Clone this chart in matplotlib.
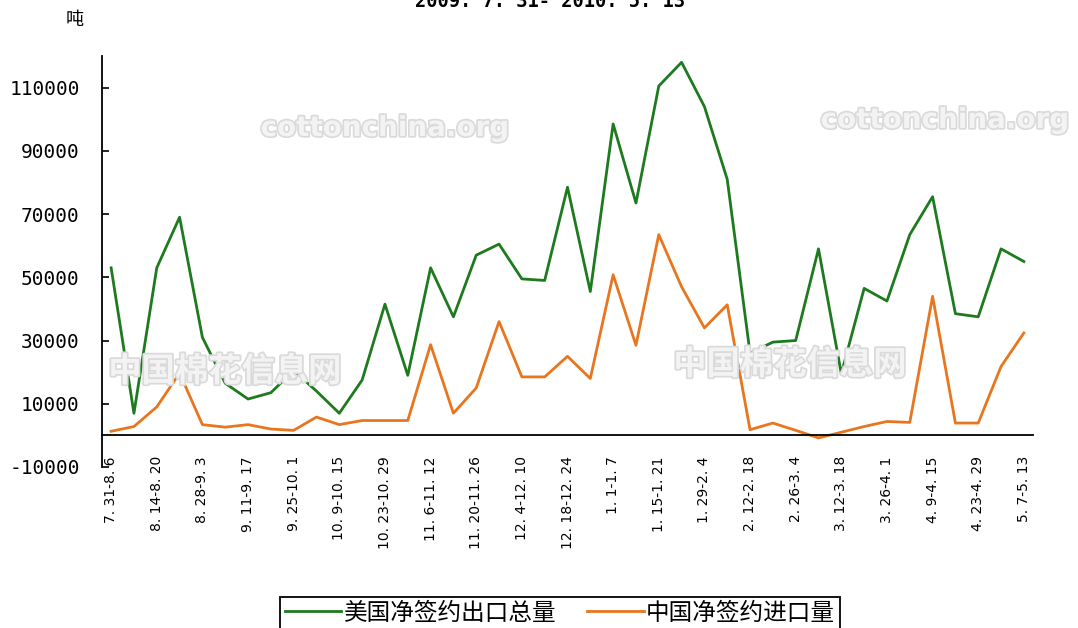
import matplotlib
matplotlib.use("Agg")
import matplotlib.pyplot as plt
import matplotlib.patheffects as pe
import numpy as np

# weekly periods, 2009.7.31 - 2010.5.13
weeks = ['7.31-8.6', '8.7-8.13', '8.14-8.20', '8.21-8.27', '8.28-9.3', '9.4-9.10',
         '9.11-9.17', '9.18-9.24', '9.25-10.1', '10.2-10.8', '10.9-10.15', '10.16-10.22',
         '10.23-10.29', '10.30-11.5', '11.6-11.12', '11.13-11.19', '11.20-11.26',
         '11.27-12.3', '12.4-12.10', '12.11-12.17', '12.18-12.24', '12.25-12.31',
         '1.1-1.7', '1.8-1.14', '1.15-1.21', '1.22-1.28', '1.29-2.4', '2.5-2.11',
         '2.12-2.18', '2.19-2.25', '2.26-3.4', '3.5-3.11', '3.12-3.18', '3.19-3.25',
         '3.26-4.1', '4.2-4.8', '4.9-4.15', '4.16-4.22', '4.23-4.29', '4.30-5.6', '5.7-5.13']

us_export = [53000, 7000, 53000, 69000, 31000, 16500, 11500, 13500, 20500, 14000,
             7000, 17500, 41500, 19000, 53000, 37500, 57000, 60500, 49500, 49000,
             78500, 45500, 98500, 73500, 110500, 118000, 104000, 81000, 26000, 29500,
             30000, 59000, 19500, 46500, 42500, 63500, 75500, 38500, 37500, 59000, 55000]

cn_import = [1300, 2800, 9000, 19700, 3400, 2600, 3400, 2000, 1600, 5800,
             3400, 4700, 4700, 4700, 28700, 7000, 15000, 36000, 18500, 18500,
             25000, 18000, 50800, 28500, 63500, 47000, 34000, 41300, 1800, 3900,
             1600, -800, 1000, 2800, 4400, 4100, 44000, 3900, 3900, 21800, 32400]

yticks = list(range(-10000, 110001, 20000))

W, H = 1078, 628
fig = plt.figure(figsize=(W / 100, H / 100), dpi=100)
ax = fig.add_axes([102 / W, (H - 467) / H, (1033 - 102) / W, (467 - 56) / H])

# watermarks
wm = dict(color='#f3f3f3', zorder=0,
          path_effects=[pe.withStroke(linewidth=2.5, foreground='#dadada')])
fig.text(385 / W, 1 - 128 / H, 'cottonchina.org', fontsize=20, ha='center', va='center',
         family='DejaVu Sans', weight='bold', **wm)
fig.text(945 / W, 1 - 120 / H, 'cottonchina.org', fontsize=20, ha='center', va='center',
         family='DejaVu Sans', weight='bold', **wm)
fig.text(225 / W, 1 - 372 / H, '中国棉花信息网', fontsize=24, ha='center', va='center',
         family='Noto Sans CJK SC', weight='bold', **wm)
fig.text(790 / W, 1 - 365 / H, '中国棉花信息网', fontsize=24, ha='center', va='center',
         family='Noto Sans CJK SC', weight='bold', **wm)
ax.patch.set_alpha(0)

x = np.arange(len(weeks))
l1, = ax.plot(x, us_export, color='#1e7a1e', lw=2.0, label='美国净签约出口总量')
l2, = ax.plot(x, cn_import, color='#e8761e', lw=2.0, label='中国净签约进口量')

ax.set_xlim(-0.4, len(weeks) - 0.6)
ax.set_ylim(-10000, 120000)
ax.set_yticks(yticks)
ax.set_yticklabels([str(v) for v in yticks], family='DejaVu Sans Mono', fontsize=14)
ax.set_xticks(x[::2])
ax.set_xticklabels([w.replace('.', '. ') for w in weeks[::2]],
                   family='DejaVu Sans Mono', fontsize=11)

for s in ['top', 'right']:
    ax.spines[s].set_visible(False)
ax.spines['bottom'].set_position(('data', 0))
ax.spines['left'].set_linewidth(1.3)
ax.spines['bottom'].set_linewidth(1.3)
ax.tick_params(axis='y', direction='in', length=5, width=1.2, pad=16)
ax.tick_params(axis='x', length=0, pad=15, labelrotation=90)

fig.text(75 / W, 1 - 20 / H, '吨', fontsize=13, ha='center', va='center',
         family='Noto Sans CJK SC')
fig.text(550 / W, 1 - 7 / H, '2009. 7. 31- 2010. 5. 13', fontsize=13.5, ha='center',
         va='baseline', family='DejaVu Sans Mono', weight='bold')

leg = fig.legend(handles=[l1, l2], loc='upper center', bbox_to_anchor=(560 / W, 1 - 597 / H),
                 ncol=2, fancybox=False, edgecolor='black', framealpha=1,
                 prop={'family': 'Noto Sans CJK SC', 'size': 17}, handlelength=2.4,
                 handletextpad=0.1, columnspacing=1.3, borderpad=0.2, borderaxespad=0)
leg.get_frame().set_linewidth(1.3)

fig.savefig('out.png', dpi=100)
